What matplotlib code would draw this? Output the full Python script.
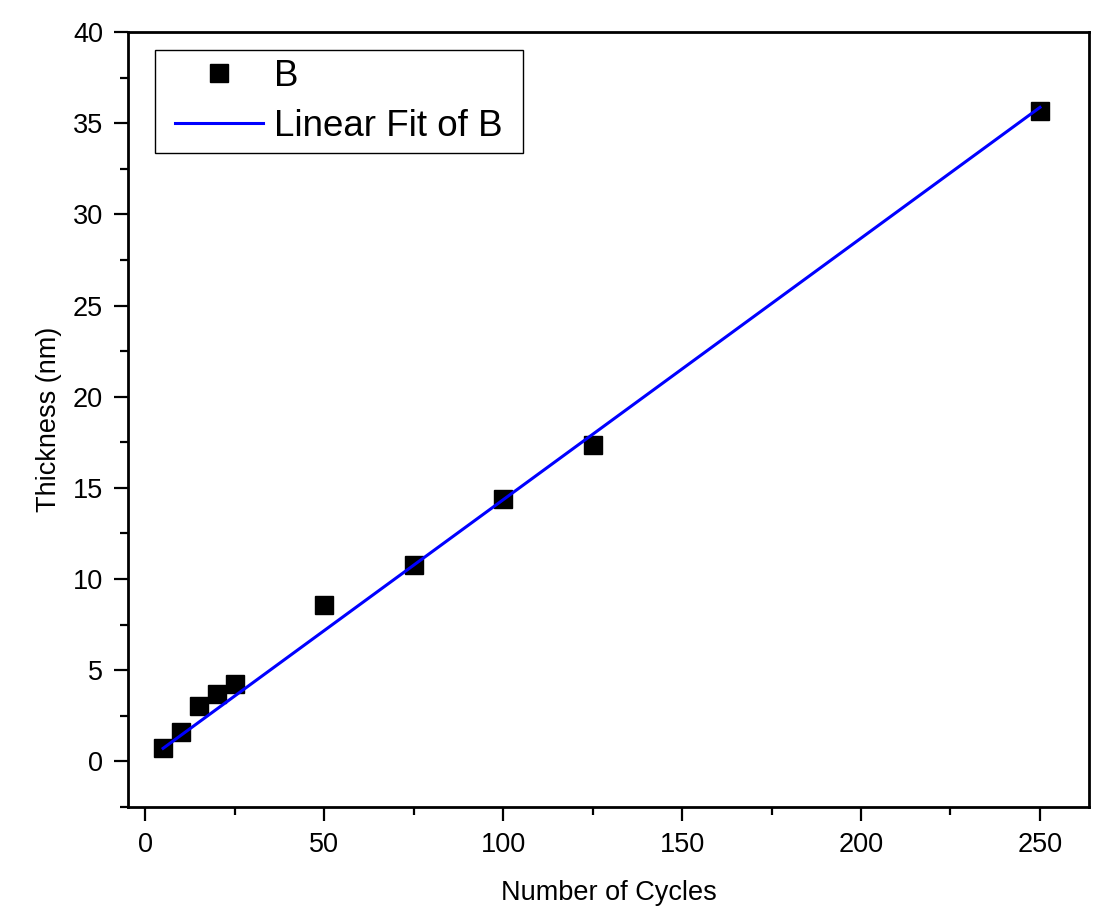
import numpy as np
import matplotlib
matplotlib.use("Agg")
import matplotlib.pyplot as plt
from matplotlib.patches import Rectangle
from matplotlib.ticker import MultipleLocator

plt.rcParams['font.family'] = ['Liberation Sans', 'DejaVu Sans']

# thickness vs. number of deposition cycles
cycles = np.array([5, 10, 15, 20, 25, 50, 75, 100, 125, 250])
thickness = np.array([0.75, 1.6, 3.05, 3.72, 4.27, 8.57, 10.78, 14.4, 17.36, 35.65])

# least-squares line forced through the origin
slope = np.sum(cycles * thickness) / np.sum(cycles * cycles)
fit_x = np.array([cycles.min(), cycles.max()])
fit_y = slope * fit_x

fig = plt.figure(figsize=(10.97, 9.09), dpi=100)
ax = fig.add_axes([0.1167, 0.1122, 0.8760, 0.8526])

ax.plot(cycles, thickness, 's', color='black', markersize=13, label='B', zorder=3)
ax.plot(fit_x, fit_y, '-', color='#0000ff', linewidth=2.2, label='Linear Fit of B', zorder=4)

ax.set_xlim(-4.8, 263.7)
ax.set_ylim(-2.5, 40)
ax.xaxis.set_major_locator(MultipleLocator(50))
ax.xaxis.set_minor_locator(MultipleLocator(25))
ax.yaxis.set_major_locator(MultipleLocator(5))
ax.yaxis.set_minor_locator(MultipleLocator(2.5))

for side in ['left', 'bottom', 'top', 'right']:
    ax.spines[side].set_linewidth(2)
ax.tick_params(which='both', direction='out', top=False, right=False, width=1.6)
ax.tick_params(which='major', length=10, labelsize=19.5, pad=8)
ax.tick_params(which='minor', length=6)

ax.set_xlabel('Number of Cycles', fontsize=19.5, labelpad=16)
ax.set_ylabel('Thickness (nm)', fontsize=19.5, labelpad=8)

leg = ax.legend(loc='upper left', bbox_to_anchor=(0.0395, 0.977), borderaxespad=0,
                fontsize=26.5, frameon=False, borderpad=0.24, handlelength=2.4,
                handletextpad=0.3, labelspacing=0.42, markerscale=1.0)

# legend frame with wider side margins than the default box
fig.canvas.draw()
bb = leg.get_window_extent().transformed(fig.transFigure.inverted())
side_pad = 11 / fig.bbox.width
frame = Rectangle((bb.x0 - side_pad, bb.y0), bb.width + 2 * side_pad, bb.height,
                  transform=fig.transFigure, facecolor='white', edgecolor='black',
                  linewidth=1.0, zorder=5)
fig.add_artist(frame)
leg.set_zorder(6)
leg.remove()
fig.add_artist(leg)

fig.savefig('out.png', dpi=100)
